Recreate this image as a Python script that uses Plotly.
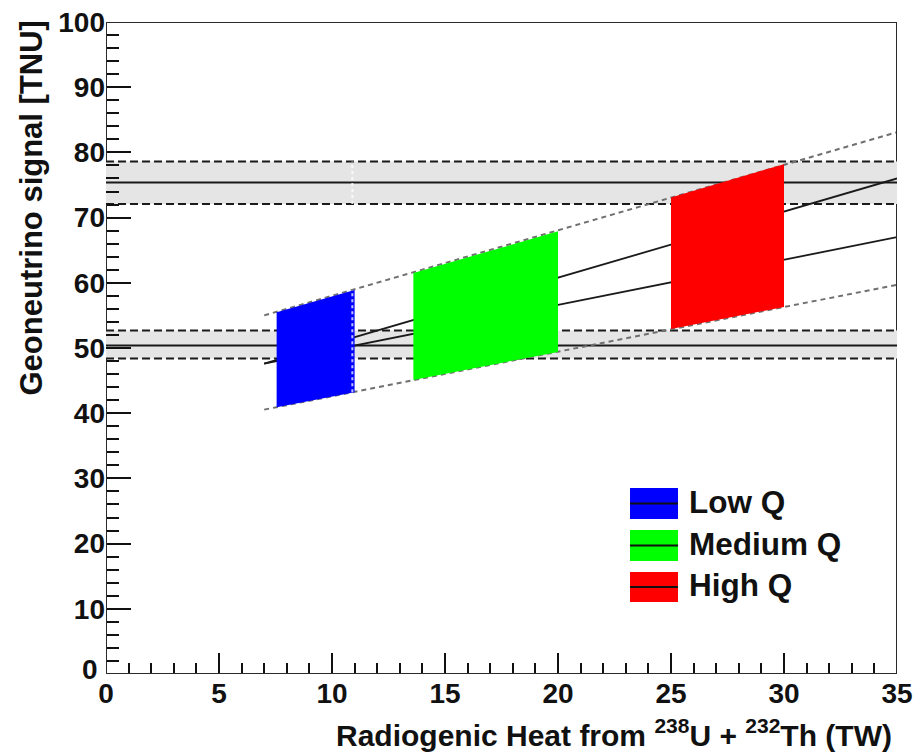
import plotly.graph_objects as go

# ---------------- data ----------------
x_range = [0, 35]
y_range = [0, 100]
x_ticks = [0, 5, 10, 15, 20, 25, 30, 35]
y_ticks = [0, 10, 20, 30, 40, 50, 60, 70, 80, 90, 100]

# horizontal measurement bands (TNU)
band_center = [75.4, 50.4]
band_low = [72.1, 48.4]
band_high = [78.6, 52.7]

# model lines (x in TW, y in TNU)
model_x = [7.0, 35.0]
upper_dashed = [55.0, 83.1]
line_a = [47.6, 76.0]
line_b = [47.6, 67.0]
lower_dashed = [40.55, 59.7]

# Q regions (parallelograms)
categories = ["Low Q", "Medium Q", "High Q"]
colors = ["#0000ff", "#00ff00", "#ff0000"]
q_x_left = [7.55, 13.6, 25.0]
q_x_right = [11.0, 20.0, 30.0]
q_top_left = [55.5, 61.5, 73.1]
q_top_right = [58.9, 67.9, 78.2]
q_bot_left = [40.9, 45.1, 52.9]
q_bot_right = [43.2, 49.4, 56.3]

# ---------------- layout geometry ----------------
W, H = 920, 754
ML, MR, MT, MB = 106, 23, 22, 80
PW, PH = W - ML - MR, H - MT - MB


def px_x(px):
    return (px - ML) / PW


def px_y(py):
    return (H - MB - py) / PH


FONT = "Liberation Sans, Arial, sans-serif"
INK = "#111111"

fig = go.Figure()

# bands
for c, lo, hi in zip(band_center, band_low, band_high):
    fig.add_trace(go.Scatter(
        x=[x_range[0], x_range[1], x_range[1], x_range[0], x_range[0]],
        y=[lo, lo, hi, hi, lo], mode="lines", fill="toself",
        fillcolor="#e5e5e5", line=dict(width=0), hoverinfo="skip",
        showlegend=False))
    for v in (lo, hi):
        fig.add_trace(go.Scatter(
            x=x_range, y=[v, v], mode="lines",
            line=dict(color="#1a1a1a", width=2, dash="8px,4px"),
            hoverinfo="skip", showlegend=False))
    fig.add_trace(go.Scatter(
        x=x_range, y=[c, c], mode="lines",
        line=dict(color="#1a1a1a", width=2), hoverinfo="skip",
        showlegend=False))

# artifact dotted line in the upper band
fig.add_trace(go.Scatter(
    x=[q_x_right[0] - 0.1, q_x_right[0] - 0.1],
    y=[band_low[0], band_high[0]], mode="lines",
    line=dict(color="rgba(255,255,255,0.8)", width=2, dash="dot"),
    hoverinfo="skip", showlegend=False))

# model lines
for ys in (upper_dashed, lower_dashed):
    fig.add_trace(go.Scatter(
        x=model_x, y=ys, mode="lines",
        line=dict(color="#707070", width=2, dash="5px,4px"),
        hoverinfo="skip", showlegend=False))
for ys in (line_a, line_b):
    fig.add_trace(go.Scatter(
        x=model_x, y=ys, mode="lines",
        line=dict(color="#1a1a1a", width=1.8),
        hoverinfo="skip", showlegend=False))

# Q regions
for i, name in enumerate(categories):
    fig.add_trace(go.Scatter(
        x=[q_x_left[i], q_x_right[i], q_x_right[i], q_x_left[i], q_x_left[i]],
        y=[q_bot_left[i], q_bot_right[i], q_top_right[i], q_top_left[i], q_bot_left[i]],
        mode="lines", fill="toself", fillcolor=colors[i],
        line=dict(width=0, color=colors[i]), name=name, showlegend=False))

# white dotted edge on the low-Q region
fig.add_trace(go.Scatter(
    x=[q_x_right[0] - 0.1, q_x_right[0] - 0.1],
    y=[q_bot_right[0], q_top_right[0]], mode="lines",
    line=dict(color="rgba(255,255,255,0.75)", width=2, dash="dot"),
    hoverinfo="skip", showlegend=False))

# frame lines broken by the bands
shapes = []
frame_col = "#2a2a2a"
shapes.append(dict(type="line", xref="x", yref="y", x0=x_range[0], x1=x_range[1],
                   y0=y_range[1], y1=y_range[1], line=dict(color=frame_col, width=2)))
shapes.append(dict(type="line", xref="x", yref="y", x0=x_range[0], x1=x_range[1],
                   y0=y_range[0], y1=y_range[0], line=dict(color=frame_col, width=2)))
cuts = sorted(zip(band_low, band_high))
segs = []
start = y_range[0]
for lo, hi in cuts:
    segs.append((start, lo))
    start = hi
segs.append((start, y_range[1]))
for xv in x_range:
    for a, b in segs:
        shapes.append(dict(type="line", xref="x", yref="y", x0=xv, x1=xv,
                           y0=a, y1=b, line=dict(color=frame_col, width=2)))

# legend (drawn manually, ROOT style)
annotations = []
leg_rect_x = (630, 678)
leg_rect_y = [(488, 519), (530, 561), (572, 602)]
for i, name in enumerate(categories):
    y0p, y1p = leg_rect_y[i]
    shapes.append(dict(type="rect", xref="paper", yref="paper",
                       x0=px_x(leg_rect_x[0]), x1=px_x(leg_rect_x[1]),
                       y0=px_y(y1p), y1=px_y(y0p), fillcolor=colors[i],
                       line=dict(width=0), layer="above"))
    ym = (y0p + y1p) / 2
    shapes.append(dict(type="line", xref="paper", yref="paper",
                       x0=px_x(leg_rect_x[0]), x1=px_x(leg_rect_x[1]),
                       y0=px_y(ym), y1=px_y(ym), line=dict(color=INK, width=2),
                       layer="above"))
    annotations.append(dict(text=name, xref="paper", yref="paper",
                            x=px_x(687), y=px_y(ym - 2), xanchor="left", yanchor="middle",
                            showarrow=False,
                            font=dict(family=FONT, size=31.5, color=INK, weight="bold")))

# axis titles
annotations.append(dict(text="Geoneutrino signal [TNU]", xref="paper", yref="paper",
                        x=px_x(31), y=1.0, yshift=3, xanchor="center", yanchor="top",
                        textangle=-90, showarrow=False,
                        font=dict(family=FONT, size=31, color=INK, weight="bold")))
annotations.append(dict(text="Radiogenic Heat from <sup>238</sup>U + <sup>232</sup>Th (TW)",
                        xref="paper", yref="paper", x=1.0, xshift=-3, y=px_y(733),
                        xanchor="right", yanchor="middle", showarrow=False,
                        font=dict(family=FONT, size=30, color=INK, weight="bold")))

tickfont = dict(family=FONT, size=28, color=INK, weight="bold")

# y "0" label drawn slightly raised (as in the reference) to avoid clashing with x "0"
y_ticktext = ["" if v == 0 else str(v) for v in y_ticks]
annotations.append(dict(text=str(y_ticks[0]), xref="paper", yref="paper",
                        x=px_x(100), y=px_y(669), xanchor="right", yanchor="middle",
                        showarrow=False, font=tickfont))

fig.update_layout(
    width=W, height=H, margin=dict(l=ML, r=MR, t=MT, b=MB, autoexpand=False),
    paper_bgcolor="white", plot_bgcolor="white",
    shapes=shapes, annotations=annotations, showlegend=False,
    xaxis=dict(range=x_range, tickvals=x_ticks, ticks="inside", ticklen=21,
               tickwidth=2, tickcolor=INK, showgrid=False, zeroline=False,
               showline=False, tickfont=tickfont, automargin=False,
               minor=dict(dtick=1, tick0=0, ticks="inside", ticklen=11, tickwidth=2,
                          tickcolor=INK, showgrid=False)),
    yaxis=dict(range=y_range, tickvals=y_ticks, ticktext=y_ticktext, ticks="inside",
               ticklen=25, tickwidth=2, tickcolor=INK, showgrid=False, zeroline=False,
               showline=False, tickfont=tickfont, automargin=False,
               minor=dict(dtick=2, tick0=0, ticks="inside", ticklen=13, tickwidth=2,
                          tickcolor=INK, showgrid=False)),
)

fig.write_html("out.html")
